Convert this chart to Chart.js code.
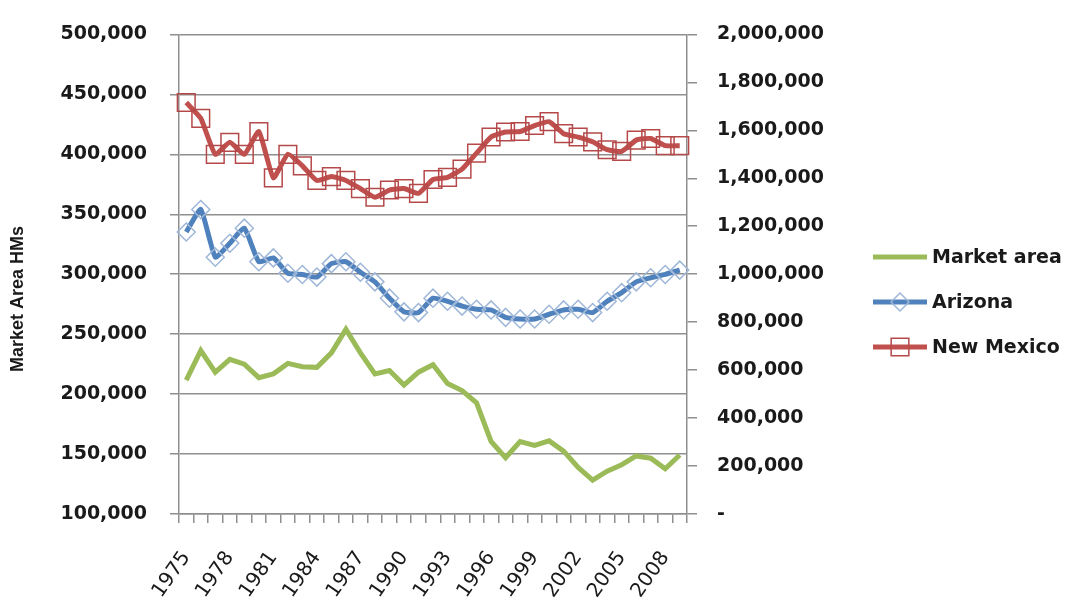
<!DOCTYPE html>
<html>
<head>
<meta charset="utf-8">
<script src="https://cdn.jsdelivr.net/npm/chart.js@4.4.1/dist/chart.umd.min.js"></script>
<style>
  html, body { margin: 0; padding: 0; background: #fff; }
  #wrap { width: 1069px; height: 600px; }
</style>
</head>
<body>
<div id="wrap"><canvas id="hms" width="1069" height="600"></canvas></div>
<script>
// categories
var years = ['1975', '1976', '1977', '1978', '1979', '1980', '1981', '1982', '1983', '1984',
  '1985', '1986', '1987', '1988', '1989', '1990', '1991', '1992', '1993', '1994',
  '1995', '1996', '1997', '1998', '1999', '2000', '2001', '2002', '2003', '2004',
  '2005', '2006', '2007', '2008', '2009'];

// left axis
var marketArea = [211600, 236300, 218300, 229000, 225000, 213700, 216900, 225600, 222900, 222300,
  234400, 254000, 234400, 216900, 219600, 207500, 218300, 224500, 208900, 203000,
  192700, 160500, 147000, 160500, 157300, 161000, 152400, 138900, 128200, 135700,
  141100, 148400, 146500, 137700, 149200];

// right axis
var arizona = [1176000, 1270000, 1071000, 1129000, 1192000, 1052000, 1068000, 1004000, 999000, 988000,
  1044000, 1052000, 1008000, 968000, 900000, 843000, 840000, 900000, 887000, 867000,
  854000, 851000, 820000, 813000, 813000, 833000, 851000, 854000, 840000, 887000,
  923000, 968000, 985000, 999000, 1017000];

var newMexico = [1716000, 1650000, 1500000, 1550000, 1500000, 1595000, 1402000, 1500000, 1452000, 1391000,
  1407000, 1391000, 1357000, 1321000, 1351000, 1357000, 1337000, 1395000, 1404000, 1438000,
  1505000, 1572000, 1593000, 1595000, 1620000, 1636000, 1586000, 1572000, 1552000, 1519000,
  1512000, 1559000, 1566000, 1536000, 1536000];

var yTitle = 'Market Area HMs';

var gridGray = '#8f8f8f';
var textCol = '#1a1a1a';
var tickFont = { family: 'DejaVu Sans', size: 19, weight: 'bold' };

// y title and legend drawn by hand so they sit where the original has them
var extras = {
  id: 'extras',
  afterDraw: function (chart) {
    var c = chart.ctx;
    c.save();
    c.translate(18, 299);
    c.rotate(-Math.PI / 2);
    c.font = 'bold 18px "Liberation Sans"';
    c.fillStyle = textCol;
    c.textAlign = 'center';
    c.textBaseline = 'middle';
    c.fillText(yTitle, 0, 0);
    c.restore();

    chart.data.datasets.forEach(function (ds, i) {
      var y = 257 + i * 45;
      c.save();
      c.strokeStyle = ds.borderColor;
      c.lineWidth = ds.borderWidth;
      c.beginPath();
      c.moveTo(873, y);
      c.lineTo(927, y);
      c.stroke();
      if (ds.pointRadius > 0) {
        c.strokeStyle = ds.pointBorderColor;
        c.fillStyle = ds.pointBackgroundColor;
        c.lineWidth = ds.pointBorderWidth;
        Chart.helpers.drawPoint(c, { pointStyle: ds.pointStyle, radius: ds.pointRadius, rotation: 0, borderWidth: ds.pointBorderWidth }, 900, y);
      }
      c.font = 'bold 19px "DejaVu Sans"';
      c.fillStyle = textCol;
      c.textAlign = 'left';
      c.textBaseline = 'middle';
      c.fillText(ds.label, 932, y + 1);
      c.restore();
    });
  }
};

var ctx = document.getElementById('hms');
var myChart = new Chart(ctx, {
  type: 'line',
  data: {
    labels: years,
    datasets: [{
      label: 'Market area',
      data: marketArea,
      yAxisID: 'y',
      borderColor: '#9bbb59',
      borderWidth: 5,
      pointRadius: 0,
      tension: 0
    }, {
      label: 'Arizona',
      data: arizona,
      yAxisID: 'y1',
      borderColor: '#4f81bd',
      borderWidth: 5,
      pointStyle: 'rectRot',
      pointRadius: 9,
      pointBorderColor: '#9fb7d8',
      pointBackgroundColor: 'rgba(255,255,255,0)',
      pointBorderWidth: 1.5,
      tension: 0.15
    }, {
      label: 'New Mexico',
      data: newMexico,
      yAxisID: 'y1',
      borderColor: '#c0504d',
      borderWidth: 5,
      pointStyle: 'rect',
      pointRadius: 12.5,
      pointBorderColor: '#b5494a',
      pointBackgroundColor: 'rgba(255,255,255,0)',
      pointBorderWidth: 1.5,
      tension: 0.15
    }]
  },
  options: {
    responsive: false,
    animation: false,
    layout: { padding: { top: 20, left: 0, right: 0, bottom: 0 } },
    plugins: {
      legend: { display: false },
      tooltip: { enabled: false }
    },
    scales: {
      x: {
        offset: true,
        grid: { offset: true, drawOnChartArea: false, tickLength: 9, color: gridGray, lineWidth: 1.5 },
        border: { color: gridGray, width: 1.5 },
        ticks: {
          autoSkip: false,
          minRotation: 55,
          maxRotation: 55,
          padding: 24,
          color: textCol,
          font: { family: 'DejaVu Sans', size: 20 },
          callback: function (v, i) { return i % 3 === 0 ? years[i] : ''; }
        },
        afterFit: function (s) { s.height = 86; }
      },
      y: {
        position: 'left',
        min: 100000,
        max: 500000,
        grid: { color: gridGray, lineWidth: 1.5, tickLength: 9 },
        border: { color: gridGray, width: 1.5 },
        ticks: {
          stepSize: 50000,
          padding: 23,
          color: textCol,
          font: tickFont,
          callback: function (v) { return v.toLocaleString('en-US'); }
        },
        afterFit: function (s) { s.width = 179; }
      },
      y1: {
        position: 'right',
        min: 0,
        max: 2000000,
        grid: { drawOnChartArea: false, color: gridGray, lineWidth: 1.5, tickLength: 10 },
        border: { color: gridGray, width: 1.5 },
        ticks: {
          stepSize: 200000,
          padding: 20,
          color: textCol,
          font: tickFont,
          callback: function (v) { return v === 0 ? '-' : v.toLocaleString('en-US'); }
        },
        afterFit: function (s) { s.width = 382; }
      }
    }
  },
  plugins: [extras]
});
</script>
</body>
</html>
